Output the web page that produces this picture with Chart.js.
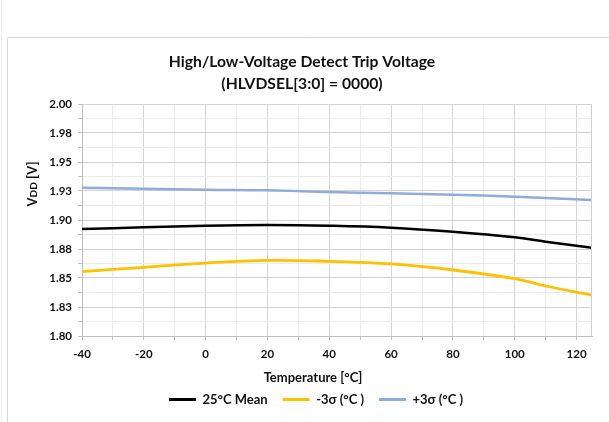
<!DOCTYPE html>
<html>
<head>
<meta charset="utf-8">
<script src="https://cdn.jsdelivr.net/npm/chart.js@4.4.1/dist/chart.umd.min.js"></script>
<style>
  html, body { margin: 0; padding: 0; background: #fff; overflow: hidden; }
  #wrap { position: relative; width: 609px; height: 422px; }
</style>
</head>
<body>
<div id="wrap"><canvas id="chart" width="609" height="422"></canvas></div>
<script>
// values
const temperatures = [-40, -20, 0, 20, 40, 60, 80, 100, 110, 125]
const meanVdd  = [1.8922, 1.8937, 1.8951, 1.8957, 1.8951, 1.8934, 1.8899, 1.8851, 1.8813, 1.8761]
const minusVdd = [1.8555, 1.8592, 1.8629, 1.8652, 1.8644, 1.8621, 1.8569, 1.8494, 1.8431, 1.8353]
const plusVdd  = [1.9279, 1.9270, 1.9261, 1.9256, 1.9241, 1.9230, 1.9218, 1.9201, 1.9189, 1.9172]

const seriesNames = ["25°C Mean", "-3σ (°C )", "+3σ (°C )"]
const xTickValues = [-40, -20, 0, 20, 40, 60, 80, 100, 120]
const xTickLabels = ["-40", "-20", "0", "20", "40", "60", "80", "100", "120"]
const yTickValues = [1.8, 1.825, 1.85, 1.875, 1.9, 1.925, 1.95, 1.975, 2.0]
const yTickLabels = ["1.80", "1.83", "1.85", "1.88", "1.90", "1.93", "1.95", "1.98", "2.00"]

const FONT = "Lato, 'Open Sans', sans-serif"
const TEXT = "#111111"
const MAJOR = "#d4d4d4"
const MINOR = "#ebebeb"

const toPoints = ys => temperatures.map((t, i) => ({ x: t, y: ys[i] }))

// minor gridlines sit half way between labelled ticks
const halfSteps = vals => {
    const out = []
    vals.forEach((v, i) => {
        out.push({ value: v })
        if (i < vals.length - 1) out.push({ value: (v + vals[i + 1]) / 2 })
    })
    return out
}

const shiftBox = (box, cx) => {
    if (!box) return
    const dx = cx - (box.left + box.right) / 2
    box.left += dx
    box.right += dx
}

const excelLook = {
    id: "excelLook",
    beforeDraw(chart) {
        shiftBox(chart.titleBlock, 302)
        shiftBox(chart.legend, 316)
        const ctx = chart.ctx
        ctx.save()
        ctx.strokeStyle = "#ececec"
        ctx.lineWidth = 1
        ctx.beginPath()
        ctx.moveTo(1.5, 0); ctx.lineTo(1.5, 422)
        ctx.stroke()
        ctx.strokeStyle = "#d9d9d9"
        ctx.beginPath()
        ctx.moveTo(7.5, 430); ctx.lineTo(7.5, 37.5); ctx.lineTo(620, 37.5)
        ctx.stroke()
        ctx.restore()
    },
    afterDraw(chart) {
        const ctx = chart.ctx
        const a = chart.chartArea
        ctx.save()
        // plot area right edge
        ctx.strokeStyle = "#cfcfcf"
        ctx.lineWidth = 1
        ctx.beginPath()
        ctx.moveTo(Math.round(a.right) - 0.5, a.top)
        ctx.lineTo(Math.round(a.right) - 0.5, a.bottom)
        ctx.stroke()

        ctx.fillStyle = TEXT
        ctx.textBaseline = "middle"
        ctx.font = "bold 13px " + FONT
        ctx.textAlign = "center"
        ctx.fillText("Temperature [°C]", 313, 378)

        // "VDD [V]" with the DD written smaller
        ctx.translate(33, 184)
        ctx.rotate(-Math.PI / 2)
        ctx.textAlign = "left"
        const big = "bold 13px " + FONT
        const small = "bold 10px " + FONT
        ctx.font = big
        const w1 = ctx.measureText("V").width
        const w3 = ctx.measureText(" [V]").width
        ctx.font = small
        const w2 = ctx.measureText("DD").width
        let x = -(w1 + w2 + w3) / 2
        ctx.font = big
        ctx.fillText("V", x, 0)
        x += w1
        ctx.font = small
        ctx.fillText("DD", x, 1)
        x += w2
        ctx.font = big
        ctx.fillText(" [V]", x, 0)
        ctx.restore()
    }
}

const lineSet = (label, ys, color, width) => ({
    label: label,
    data: toPoints(ys),
    borderColor: color,
    backgroundColor: color,
    borderWidth: width,
    pointRadius: 0,
    tension: 0.4,
    fill: false
})

const tickLabel = labels => (v, i) => (i % 2 ? "" : labels[i / 2])

new Chart(document.getElementById("chart").getContext("2d"), {
    type: "line",
    data: {
        datasets: [
            lineSet(seriesNames[0], meanVdd, "#000000", 2.5),
            lineSet(seriesNames[1], minusVdd, "#ffc000", 2.8),
            lineSet(seriesNames[2], plusVdd, "#8faadc", 2.5)
        ]
    },
    options: {
        responsive: false,
        animation: false,
        layout: { padding: { left: 8, right: 17, top: 0, bottom: 6 } },
        plugins: {
            title: {
                display: true,
                text: ["High/Low-Voltage Detect Trip Voltage", "(HLVDSEL[3:0] = 0000)"],
                color: TEXT,
                font: { family: FONT, size: 15.7, weight: "bold", lineHeight: 22 / 15.7 },
                padding: { top: 51, bottom: 9 }
            },
            legend: {
                position: "bottom",
                fullSize: false,
                labels: {
                    color: TEXT,
                    font: { family: FONT, size: 13, weight: "bold" },
                    boxWidth: 27,
                    boxHeight: 3,
                    padding: 15,
                    generateLabels(chart) {
                        return Chart.defaults.plugins.legend.labels.generateLabels(chart).map(item => {
                            item.lineWidth = 0
                            item.fillStyle = chart.data.datasets[item.datasetIndex].borderColor
                            item.fontColor = TEXT
                            return item
                        })
                    }
                }
            },
            tooltip: { enabled: false }
        },
        scales: {
            x: {
                type: "linear",
                min: -40,
                max: 125,
                afterBuildTicks: axis => { axis.ticks = halfSteps(xTickValues) },
                afterFit: axis => { axis.height = 42 },
                grid: {
                    color: c => (c.index % 2 ? MINOR : MAJOR),
                    tickColor: "#bfbfbf",
                    tickLength: 4
                },
                border: { color: "#bfbfbf" },
                ticks: {
                    autoSkip: false,
                    maxRotation: 0,
                    padding: 7,
                    color: TEXT,
                    font: { family: FONT, size: 11.5, weight: "bold" },
                    callback: tickLabel(xTickLabels)
                }
            },
            y: {
                min: 1.8,
                max: 2.0,
                afterBuildTicks: axis => { axis.ticks = halfSteps(yTickValues) },
                afterFit: axis => { axis.width = 74 },
                grid: {
                    color: c => (c.index % 2 ? MINOR : MAJOR),
                    tickColor: "#bfbfbf",
                    tickLength: 4
                },
                border: { color: "#bfbfbf" },
                ticks: {
                    autoSkip: false,
                    padding: 6,
                    color: TEXT,
                    font: { family: FONT, size: 11.5, weight: "bold" },
                    callback: tickLabel(yTickLabels)
                }
            }
        }
    },
    plugins: [excelLook]
})
</script>
</body>
</html>
